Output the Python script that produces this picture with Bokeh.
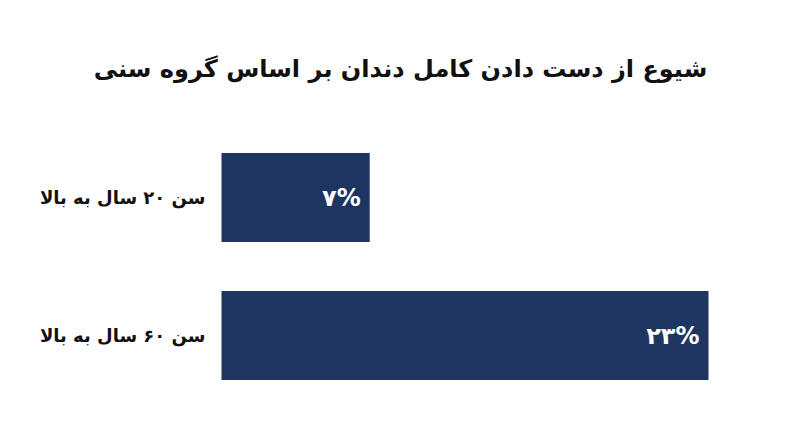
from bokeh.plotting import figure
from bokeh.models import ColumnDataSource, FactorRange, Range1d
from bokeh.core.properties import value
from bokeh.embed import file_html
from bokeh.resources import INLINE

title_text = "شیوع از دست دادن کامل دندان بر اساس گروه سنی"
categories = ["سن ۶۰ سال به بالا", "سن ۲۰ سال به بالا"]
values = [23, 7]
value_labels = ["۲۳%", "۷%"]

FONT = "DejaVu Sans"
BAR = "#1e3461"

W, H = 800, 447
BAR_LEFT_PX, BAR_MAX_PX = 221, 708
scale = (BAR_MAX_PX - BAR_LEFT_PX) / max(values)
x_start = -BAR_LEFT_PX / scale
x_end = (W - BAR_LEFT_PX) / scale

src = ColumnDataSource(dict(cat=categories, val=values, lab=value_labels,
                            zero=[0] * len(values)))

p = figure(width=W, height=H, output_backend="svg", toolbar_location=None,
           y_range=FactorRange(*categories), x_range=Range1d(x_start, x_end),
           min_border_left=0, min_border_right=0, min_border_top=128,
           min_border_bottom=43, title=title_text)
p.outline_line_color = None
p.grid.visible = False
p.axis.visible = False
p.background_fill_color = "white"
p.border_fill_color = "white"

p.title.align = "center"
p.title.offset = 4
p.title.standoff = 92
p.title.text_font = FONT
p.title.text_font_style = "bold"
p.title.text_font_size = "24px"
p.title.text_color = "#111111"

p.hbar(y="cat", right="val", left=0, height=0.645, source=src,
       fill_color=BAR, line_color=None)
p.text(x="val", y="cat", text="lab", source=src, x_offset=-9,
       text_align="right", text_baseline="middle", text_color="white",
       text_font=value(FONT), text_font_style="bold", text_font_size="24px")
p.text(x="zero", y="cat", text="cat", source=src, x_offset=-16,
       text_align="right", text_baseline="middle", text_color="#111111",
       text_font=value(FONT), text_font_style="bold", text_font_size="18px")

open("out.html", "w").write(file_html(p, INLINE))
